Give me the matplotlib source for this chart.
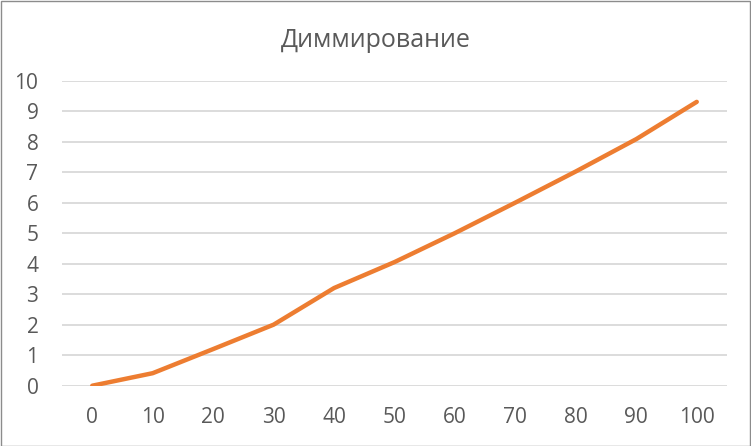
import matplotlib
matplotlib.use("Agg")
import matplotlib.pyplot as plt
from matplotlib.patches import Rectangle

# chart data
x_labels = ["0", "10", "20", "30", "40", "50", "60", "70", "80", "90", "100"]
x_values = [0, 10, 20, 30, 40, 50, 60, 70, 80, 90, 100]
y_values = [0.0, 0.41, 1.2, 2.0, 3.2, 4.05, 5.0, 6.0, 7.02, 8.08, 9.3]
title = "Диммирование"

plt.rcParams['font.family'] = ['Open Sans', 'DejaVu Sans']

text_color = "#595959"
grid_color = "#d9d9d9"
line_color = "#ed7d31"

fig = plt.figure(figsize=(7.51, 4.46), dpi=100)
ax = fig.add_axes([0.0826, 0.1352, 0.968 - 0.0826, 0.8195 - 0.1352])

ax.plot(x_values, y_values, color=line_color, linewidth=3.2,
        solid_capstyle="round", solid_joinstyle="round", zorder=3)

ax.set_xlim(-5, 105)
ax.set_ylim(0, 10)
ax.set_yticks(range(0, 11))
ax.set_xticks(x_values)
ax.set_xticklabels(x_labels)

ax.grid(axis="y", color=grid_color, linewidth=1.3)
ax.set_axisbelow(True)
for s in ax.spines.values():
    s.set_visible(False)
ax.tick_params(axis="both", length=0, colors=text_color, labelsize=15)
ax.tick_params(axis="y", pad=17)
ax.tick_params(axis="x", pad=15)

fig.text(0.5, 0.91, title, ha="center", va="center", fontsize=18, color=text_color)

# outer border like the Excel chart area
fig.patches.append(Rectangle((0.0007, 0.001), 0.998, 0.997, transform=fig.transFigure,
                             fill=False, edgecolor="#8c8c8c", linewidth=1.0))

fig.savefig("out.png", dpi=100)
